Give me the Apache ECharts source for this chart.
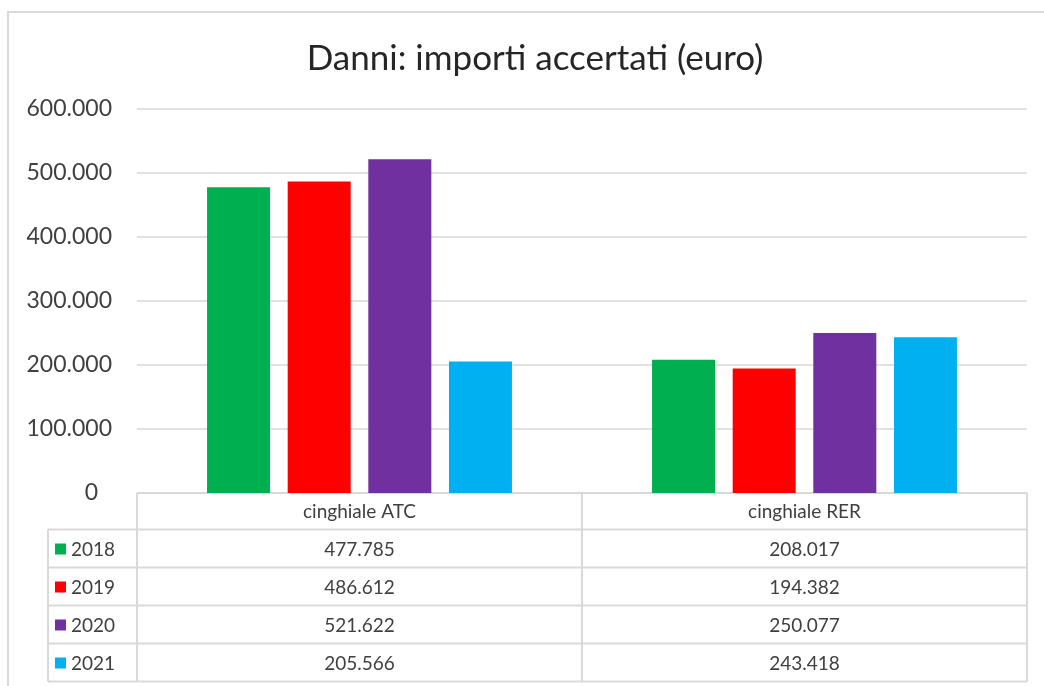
<!DOCTYPE html>
<html>
<head>
<meta charset="utf-8">
<title>Danni: importi accertati (euro)</title>
<script src="https://cdn.jsdelivr.net/npm/echarts@6/dist/echarts.min.js"></script>
<style>
  html, body { margin: 0; padding: 0; background: #fff; }
  #main { width: 1044px; height: 686px; }
</style>
</head>
<body>
<div id="main"></div>
<script>
var categories = ['cinghiale ATC', 'cinghiale RER'];
var years = ['2018', '2019', '2020', '2021'];
var v2018 = [477785, 208017];
var v2019 = [486612, 194382];
var v2020 = [521622, 250077];
var v2021 = [205566, 243418];
var yTicks = [0, 100000, 200000, 300000, 400000, 500000, 600000];

var colors = ['#00B050', '#FF0000', '#7030A0', '#00B0F0'];
var values = [v2018, v2019, v2020, v2021];
var font = 'Lato, "Open Sans", sans-serif';
var textColor = '#404040';
var lineColor = '#d9d9d9';

function fmt(n) {
  return String(n).replace(/\B(?=(\d{3})+(?!\d))/g, '.');
}

var chart = echarts.init(document.getElementById('main'));

var series = years.map(function (y, i) {
  return {
    name: y,
    type: 'bar',
    data: values[i],
    barWidth: 63,
    barGap: '28%',
    itemStyle: { color: colors[i] }
  };
});

chart.setOption({
  animation: false,
  title: {
    text: 'Danni: importi accertati (euro)',
    left: 530,
    top: 36,
    textAlign: 'center',
    textStyle: { fontFamily: font, fontSize: 35, fontWeight: 'normal', color: '#262626' }
  },
  grid: { left: 137, right: 17, top: 109, bottom: 193 },
  xAxis: {
    type: 'category',
    data: categories,
    axisLine: { show: false },
    axisTick: { show: false },
    axisLabel: { show: false }
  },
  yAxis: {
    type: 'value',
    min: yTicks[0],
    max: yTicks[yTicks.length - 1],
    interval: 100000,
    axisLine: { show: false },
    axisTick: { show: false },
    splitLine: { lineStyle: { color: lineColor, width: 1.5 } },
    axisLabel: {
      margin: 25,
      fontFamily: font,
      fontSize: 23,
      color: textColor,
      formatter: function (v) { return v === 0 ? '{z|0}' : fmt(v); },
      rich: { z: { fontFamily: font, fontSize: 23, color: textColor, padding: [0, 14, 0, 0] } }
    }
  },
  series: series
});

// data table under the plot, placed from the chart's own axes
function buildTable() {
  var g = [];
  var top = chart.convertToPixel({ yAxisIndex: 0 }, 0);
  var c0 = chart.convertToPixel({ xAxisIndex: 0 }, categories[0]);
  var c1 = chart.convertToPixel({ xAxisIndex: 0 }, categories[1]);
  var colW = c1 - c0;
  var left = c0 - colW / 2;
  var right = left + colW * categories.length;
  var legendLeft = 48;
  var headH = 36.5;
  var rowH = 38;
  var bottom = top + headH + rowH * years.length;
  var ls = { stroke: lineColor, lineWidth: 2 };

  // outer frame of the chart area
  g.push({ type: 'polyline', shape: { points: [[8, 686], [8, 12], [1044, 12]] }, style: ls, silent: true });

  // horizontal lines
  g.push({ type: 'line', shape: { x1: left, y1: top, x2: right, y2: top }, style: ls });
  for (var r = 0; r <= years.length; r++) {
    var y = top + headH + rowH * r;
    g.push({ type: 'line', shape: { x1: legendLeft, y1: y, x2: right, y2: y }, style: ls });
  }
  // vertical lines
  for (var c = 0; c <= categories.length; c++) {
    var x = left + colW * c;
    g.push({ type: 'line', shape: { x1: x, y1: top, x2: x, y2: bottom }, style: ls });
  }
  g.push({ type: 'line', shape: { x1: legendLeft, y1: top + headH, x2: legendLeft, y2: bottom }, style: ls });

  // header
  categories.forEach(function (cat, i) {
    g.push({
      type: 'text',
      style: {
        text: cat, x: chart.convertToPixel({ xAxisIndex: 0 }, cat), y: top + headH / 2 + 1,
        align: 'center', verticalAlign: 'middle',
        font: '19px ' + font, fill: textColor
      }
    });
  });

  // rows
  years.forEach(function (yr, r) {
    var cy = top + headH + rowH * r + rowH / 2 + 1;
    g.push({ type: 'rect', shape: { x: 55, y: cy - 6, width: 11, height: 11 }, style: { fill: colors[r] } });
    g.push({
      type: 'text',
      style: { text: yr, x: 71, y: cy, align: 'left', verticalAlign: 'middle', font: '19px ' + font, fill: textColor }
    });
    categories.forEach(function (cat, i) {
      g.push({
        type: 'text',
        style: {
          text: fmt(values[r][i]), x: chart.convertToPixel({ xAxisIndex: 0 }, cat), y: cy,
          align: 'center', verticalAlign: 'middle',
          font: '19px ' + font, fill: textColor
        }
      });
    });
  });

  chart.setOption({ graphic: { elements: g } });
}
buildTable();
</script>
</body>
</html>
